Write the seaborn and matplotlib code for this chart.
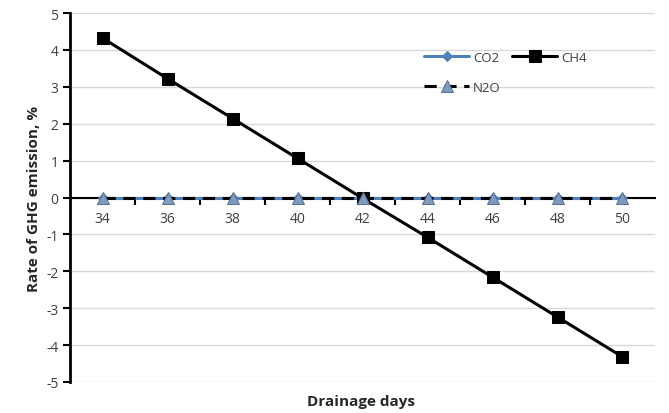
import numpy as np
import pandas as pd
import seaborn as sns
import matplotlib.pyplot as plt
from matplotlib.ticker import FixedLocator

# values
days = [34, 36, 38, 40, 42, 44, 46, 48, 50]
co2 = [0, 0, 0, 0, 0, 0, 0, 0, 0]
ch4 = [4.32, 3.22, 2.14, 1.06, -0.02, -1.08, -2.16, -3.24, -4.32]
n2o = [0, 0, 0, 0, 0, 0, 0, 0, 0]

sns.set_style("white")
plt.rcParams['font.family'] = ['Open Sans', 'DejaVu Sans']
plt.rcParams['axes.unicode_minus'] = False

pos = np.arange(len(days))
df = pd.DataFrame({"pos": pos, "CO2": co2, "CH4": ch4, "N2O": n2o})

fig = plt.figure(figsize=(6.69, 4.14), dpi=100)
ax = fig.add_axes([0.105, 0.075, 0.874, 0.891])

for y in range(-5, 6):
    ax.axhline(y, color="#d9d9d9", lw=1, zorder=0)

sns.lineplot(data=df, x="pos", y="CO2", ax=ax, color="#4f81bd", lw=2.2,
             marker="D", markersize=5, markeredgecolor="#4f81bd", label="CO2", zorder=3)
sns.lineplot(data=df, x="pos", y="CH4", ax=ax, color="black", lw=2.2,
             marker="s", markersize=9, markeredgecolor="black", label="CH4", zorder=4)
sns.lineplot(data=df, x="pos", y="N2O", ax=ax, color="black", lw=2.2, linestyle=(0, (4, 2.5)),
             marker="^", markersize=8, markerfacecolor="#7f9cc0", markeredgecolor="#5a7090",
             label="N2O", zorder=5)

ax.set_xlim(-0.5, len(days) - 0.5)
ax.set_ylim(-5, 5)
ax.set_yticks(range(-5, 6))

ax.spines["bottom"].set_position(("data", 0))
ax.spines["bottom"].set_linewidth(1.5)
ax.spines["left"].set_linewidth(2)
for s in ["bottom", "left"]:
    ax.spines[s].set_color("black")
ax.spines["top"].set_visible(False)
ax.spines["right"].set_visible(False)

ax.xaxis.set_major_locator(FixedLocator(pos[:-1] + 0.5))
ax.xaxis.set_minor_locator(FixedLocator(pos))
ax.set_xticklabels([], minor=False)
ax.set_xticklabels([str(d) for d in days], minor=True)
ax.tick_params(axis="x", which="major", direction="out", length=5, width=1.5, color="black", bottom=True)
ax.tick_params(axis="x", which="minor", length=0, pad=10, labelsize=10, labelcolor="#404040")
ax.tick_params(axis="y", direction="out", length=5, width=1.5, color="black", left=True,
               labelsize=10, labelcolor="#404040")

ax.set_xlabel("")
ax.set_ylabel("Rate of GHG emission, %", fontsize=11, fontweight="bold", color="#262626")
fig.text(0.54, 0.012, "Drainage days", ha="center", va="bottom", fontsize=11,
         fontweight="bold", color="#262626")

handles, labels = ax.get_legend_handles_labels()
order = [labels.index(l) for l in ["CO2", "N2O", "CH4"]]
ax.legend([handles[i] for i in order], [labels[i] for i in order],
          loc="upper left", bbox_to_anchor=(0.585, 0.93), ncol=2, frameon=False,
          fontsize=9.5, handlelength=3.4, columnspacing=0.9, labelspacing=1.3,
          handletextpad=0.3, labelcolor="#404040")

fig.savefig("out.png", dpi=100)
